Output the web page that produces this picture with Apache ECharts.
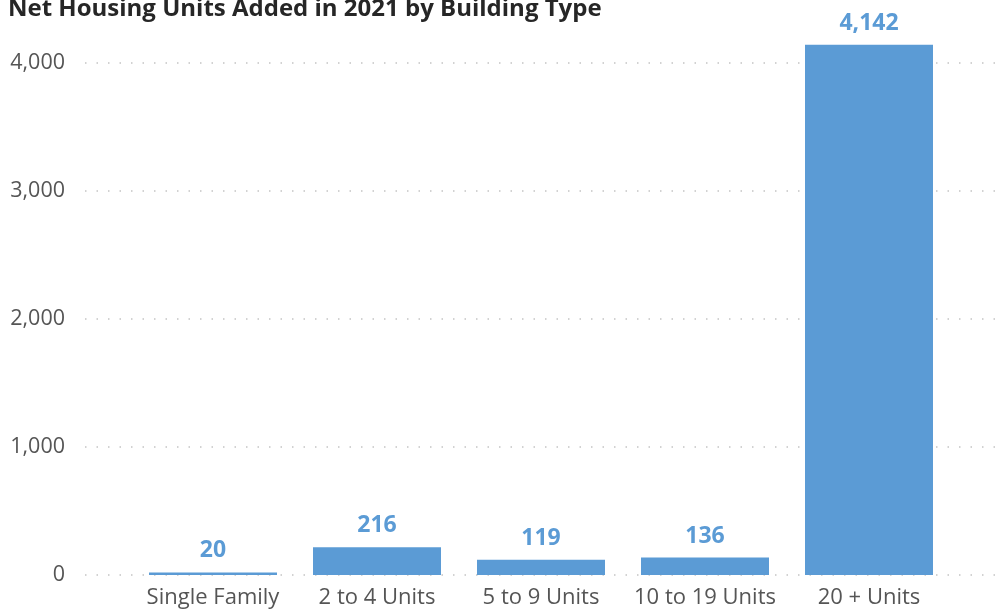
<!DOCTYPE html>
<html><head><meta charset="utf-8">
<script src="https://cdn.jsdelivr.net/npm/echarts@6/dist/echarts.min.js"></script>
<style>html,body{margin:0;padding:0;background:#fff}#c{width:995px;height:609px}</style>
</head><body><div id="c"></div>
<script>
const categories = ['Single Family', '2 to 4 Units', '5 to 9 Units', '10 to 19 Units', '20 + Units'];
const values = [20, 216, 119, 136, 4142];
const yTicks = [0, 1000, 2000, 3000, 4000];

const FONT = '"Open Sans", "Noto Sans", sans-serif';
const yMax = 4400;
const chart = echarts.init(document.getElementById('c'));
chart.setOption({
  animation: false,
  title: {
    text: 'Net Housing Units Added in 2021 by Building Type',
    left: 8, top: -3, padding: 0,
    textStyle: { fontFamily: FONT, fontWeight: 'bold', fontSize: 24, color: '#262626' }
  },
  grid: [
    { left: 85, right: 0, top: 63, bottom: 34 },
    { left: 131, right: 44, top: 11.8, bottom: 34 }
  ],
  xAxis: [
    { gridIndex: 0, type: 'value', show: false, min: 0, max: 1 },
    { gridIndex: 1, type: 'category', data: categories,
      axisLine: { show: false }, axisTick: { show: false },
      axisLabel: { interval: 0, margin: 12, fontFamily: FONT, fontSize: 22, color: '#555555' } }
  ],
  yAxis: [
    { gridIndex: 0, type: 'value', min: 0, max: 4000, interval: 1000,
      axisLine: { show: false }, axisTick: { show: false },
      axisLabel: { margin: 20, fontFamily: FONT, fontSize: 21.5, color: '#555555',
        formatter: v => yTicks.includes(v) ? v.toLocaleString('en-US') : '' },
      splitLine: { show: true, lineStyle: { color: '#c4c4c4', width: 1.5, type: [1.5, 10] } } },
    { gridIndex: 1, type: 'value', min: 0, max: yMax, interval: 1000, show: false,
      splitLine: { show: false } }
  ],
  series: [{
    type: 'bar', xAxisIndex: 1, yAxisIndex: 1,
    data: values, barWidth: 128,
    itemStyle: { color: '#5B9BD5' },
    label: { show: true, position: 'top', distance: 10,
      fontFamily: FONT, fontWeight: 'bold', fontSize: 23, color: '#5B9BD5',
      formatter: p => p.value.toLocaleString('en-US') }
  }]
});
</script></body></html>
